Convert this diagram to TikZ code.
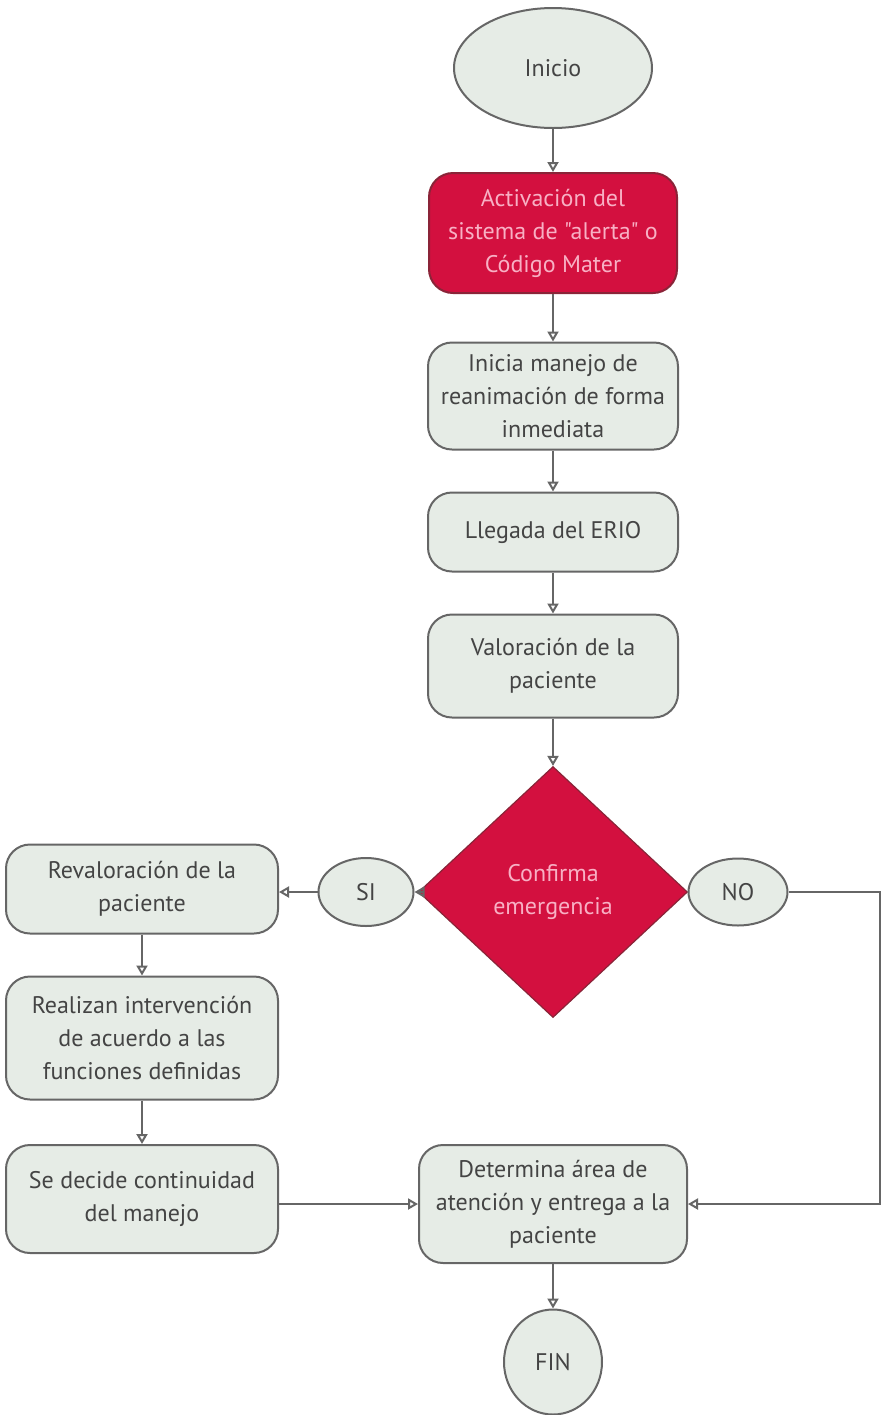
\documentclass[tikz,border=0pt]{standalone}
\usepackage{fontspec}
\setmainfont{PT Sans}[Ligatures=TeXOff]
\usetikzlibrary{arrows.meta,shapes.geometric}
\definecolor{boxfill}{HTML}{E6ECE6}
\definecolor{linegrey}{HTML}{666666}
\definecolor{txtgrey}{HTML}{444444}
\definecolor{mater}{HTML}{D3103F}
\definecolor{materdark}{HTML}{8A2438}
\definecolor{matertxt}{HTML}{F8B0C4}

\begin{document}
\begin{tikzpicture}[x=0.5pt,y=-0.5pt,>={Triangle[open,length=5pt,width=5.5pt]},
	box/.style={rectangle,rounded corners=12pt,draw=linegrey,fill=boxfill,line width=1pt,text=txtgrey,align=center,inner sep=2pt},
	redbox/.style={box,fill=mater,draw=materdark,text=matertxt},
	term/.style={ellipse,draw=linegrey,fill=boxfill,line width=1pt,text=txtgrey,inner sep=0pt},
	decision/.style={diamond,draw=materdark,fill=mater,line width=0.6pt,text=matertxt,align=center,inner sep=0pt},
	arr/.style={->,draw=linegrey,line width=1pt}]
	\tikzstyle{every node}=[font=\fontsize{12}{16.5}\selectfont]
	\useasboundingbox (0,0) rectangle (881,1415);
	\draw
		(553,68)    node(inicio) [term, minimum width=99pt, minimum height=60pt] {Inicio}
		(553,233)   node(alerta) [redbox, minimum width=124pt, minimum height=60pt] {Activación del\\sistema de "alerta" o\\Código Mater}
		(553,396)   node(reanima) [box, minimum width=125pt, minimum height=53.5pt] {Inicia manejo de\\reanimación de forma\\inmediata}
		(553,532)   node(erio) [box, minimum width=125pt, minimum height=39.5pt] {Llegada del ERIO}
		(553,666)   node(valora) [box, minimum width=125pt, minimum height=51.5pt] {Valoración de la\\paciente}
		(553,892)   node(confirma) [decision, minimum width=134.5pt, minimum height=125.5pt] {Confirma\\emergencia}
		(366,892)   node(si) [term, minimum width=47.5pt, minimum height=34pt] {SI}
		(738,892)   node(no) [term, minimum width=49.5pt, minimum height=33.5pt] {NO}
		(142,889)   node(revalora) [box, minimum width=136pt, minimum height=44.5pt] {Revaloración de la\\paciente}
		(142,1038)  node(interv) [box, minimum width=136pt, minimum height=61.5pt] {Realizan intervención\\de acuerdo a las\\funciones definidas}
		(142,1199)  node(decide) [box, minimum width=136pt, minimum height=54pt] {Se decide continuidad\\del manejo}
		(553,1204)  node(entrega) [box, minimum width=134pt, minimum height=59pt] {Determina área de\\atención y entrega a la\\paciente}
		(553,1362)  node(fin) [term, minimum width=49pt, minimum height=52.5pt] {FIN};
	\coordinate (ne) at (880,892);
	\coordinate (se) at (880,1204);

	\draw [arr] (inicio) -- (alerta);
	\draw [arr] (alerta) -- (reanima);
	\draw [arr] (reanima) -- (erio);
	\draw [arr] (erio) -- (valora);
	\draw [arr] (valora) -- (confirma);
	\draw [arr] (confirma) -- (si);
	\draw [arr] (si) -- (si -| revalora.east);
	\draw [arr] (revalora) -- (interv);
	\draw [arr] (interv) -- (decide);
	\draw [arr] (decide.east |- entrega) -- (entrega);
	\draw [draw=linegrey,line width=1pt] (confirma) -- (no);
	\draw [arr] (no) -- (ne) -- (se) -- (entrega);
	\draw [arr] (entrega) -- (fin);
\end{tikzpicture}
\end{document}
